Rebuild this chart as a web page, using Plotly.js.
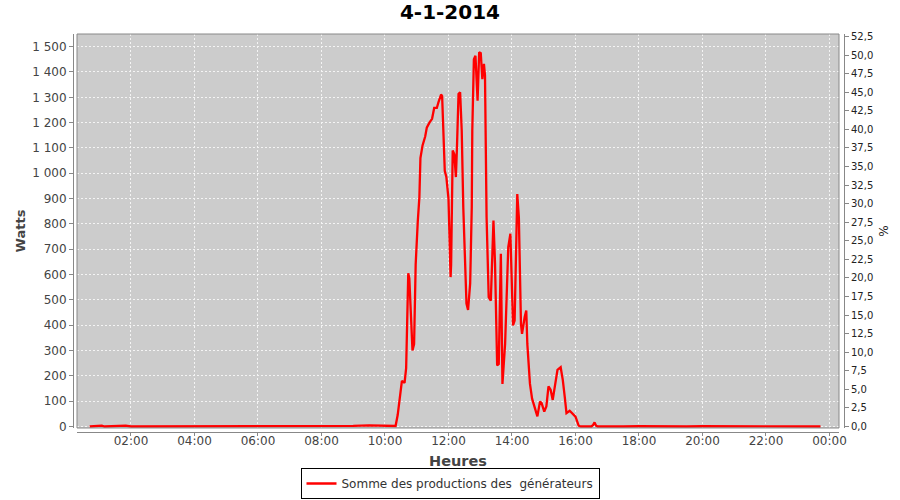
<!DOCTYPE html>
<html>
<head>
<meta charset="utf-8">
<script src="https://cdn.plot.ly/plotly-3.0.1.min.js"></script>
<style>
  html, body { margin: 0; padding: 0; background: #ffffff; }
  #chart { width: 900px; height: 500px; }
</style>
</head>
<body>
<div id="chart"></div>
<script>
// ---- Data (4 Jan 2014) ----
const day = "2014-01-04";
const times = [
  "00:42","01:05","01:10","01:35","01:50","02:00","03:00","04:00","05:00","06:00",
  "07:00","08:00","09:00","09:30","10:00","10:15","10:20",
  "10:24","10:29","10:32","10:37","10:40","10:43","10:44","10:46","10:49","10:52",
  "10:55","10:58","11:02","11:05","11:07","11:11","11:16","11:19","11:24","11:29",
  "11:33","11:38","11:41","11:46","11:48","11:50","11:53","11:56","12:00","12:02",
  "12:04","12:05","12:08","12:11","12:14","12:16","12:19","12:22","12:25","12:28",
  "12:31","12:34","12:37","12:41","12:44","12:45","12:48","12:51","12:55","12:58",
  "13:01","13:04","13:07","13:09","13:12","13:16","13:20","13:25","13:28","13:32",
  "13:35","13:39","13:42","13:47","13:53","13:57","14:02","14:05","14:10","14:13",
  "14:17","14:19","14:24","14:27","14:29","14:34","14:38","14:41","14:44","14:48",
  "14:53","14:56","15:01","15:05","15:09","15:13","15:17","15:23","15:26","15:32",
  "15:36","15:40","15:43","15:49","15:55","16:00","16:06","16:10","16:30","16:33",
  "16:36","16:39","16:42","17:00","17:30","18:00","18:30","19:00","19:30","20:00",
  "20:30","21:00","21:30","22:00","22:30","23:00","23:43"
];
const watts = [
  0,3,0,2,3,0,0,0,0,0,
  1,1,2,4,4,3,2,
  45,130,180,172,230,510,605,585,420,300,
  325,640,810,905,1060,1110,1145,1180,1200,1215,
  1258,1258,1280,1311,1305,1170,1010,985,900,745,
  590,640,1090,1075,985,1100,1313,1320,1170,865,
  640,485,460,565,866,1170,1450,1464,1287,1478,
  1474,1372,1432,1386,826,511,497,813,642,241,
  247,682,168,326,708,761,399,418,918,826,
  405,366,432,458,326,168,110,86,66,40,
  99,92,59,79,158,145,105,184,224,234,
  184,112,53,62,49,39,3,0,0,5,
  16,3,0,1,0,1,0,1,0,1,
  1,1,0,1,0,0,0
];
const seriesName = "Somme des productions des \u00a0générateurs";
const chartTitle = "4-1-2014";
const xTitle = "Heures";
const yTitle = "Watts";
const y2Title = "%";

const xs = times.map(t => day + " " + t);

const trace = {
  x: xs, y: watts, type: "scatter", mode: "lines",
  name: seriesName,
  line: { color: "#ff0000", width: 2.3 },
  hoverinfo: "skip"
};
// empty trace that only attaches the percentage axis (draws nothing)
const pctAxisTrace = {
  x: [null], y: [null], type: "scatter", mode: "lines",
  yaxis: "y2", showlegend: false, hoverinfo: "skip"
};

const font = "DejaVu Sans, Verdana, sans-serif";
const xDomain = [0.02152, 0.98608];
const layout = {
  width: 900, height: 500,
  margin: { l: 60, r: 50, t: 30, b: 60 },
  paper_bgcolor: "#ffffff",
  plot_bgcolor: "#cccccc",
  separators: ", ",
  font: { family: font, size: 12, color: "#444444" },
  title: {
    text: "<b>" + chartTitle + "</b>",
    font: { family: font, size: 20, color: "#000000" },
    xref: "container", x: 0.5, xanchor: "center",
    yref: "container", y: 0.976, yanchor: "middle"
  },
  showlegend: true,
  legend: {
    xref: "container", x: 0.5, xanchor: "center",
    yref: "container", y: 0.002, yanchor: "bottom",
    orientation: "h",
    bordercolor: "#000000", borderwidth: 1, bgcolor: "#ffffff",
    font: { family: font, size: 12, color: "#333333" },
    itemwidth: 30
  },
  xaxis: {
    type: "date",
    domain: xDomain,
    anchor: "free", position: 0.0195,
    range: [day + " 00:18", "2014-01-05 00:18"],
    tickformat: "%H:%M",
    dtick: 7200000,
    tick0: day + " 00:00",
    showline: true, linecolor: "#888888", linewidth: 1,
    ticks: "outside", ticklen: 3, tickcolor: "#888888",
    ticklabelstandoff: -5,
    showgrid: true, gridcolor: "#f4f4f4", griddash: "2px,2px", gridwidth: 1,
    zeroline: false,
    tickfont: { family: font, size: 12, color: "#444444" }
  },
  yaxis: {
    domain: [0.02927, 0.99024],
    anchor: "free", position: 0.01646,
    range: [-6, 1550],
    dtick: 100, tick0: 0,
    tickformat: ",d",
    showline: true, linecolor: "#888888", linewidth: 1,
    ticks: "outside", ticklen: 4, tickcolor: "#888888",
    showgrid: true, gridcolor: "#f4f4f4", griddash: "2px,2px", gridwidth: 1,
    zeroline: false,
    tickfont: { family: font, size: 12, color: "#444444" },
    title: { text: "<b>" + yTitle + "</b>", font: { family: font, size: 13, color: "#444444" }, standoff: 2 }
  },
  yaxis2: {
    overlaying: "y", side: "right",
    anchor: "free", position: 0.99241,
    range: [-0.2, 52.83],
    dtick: 2.5, tick0: 0,
    tickformat: ".1f",
    showline: true, linecolor: "#888888", linewidth: 1,
    ticks: "outside", ticklen: 4, tickcolor: "#888888",
    showgrid: false, zeroline: false,
    tickfont: { family: font, size: 10, color: "#222222" },
    title: { text: y2Title, font: { family: font, size: 12, color: "#222222" }, standoff: 7 }
  },
  annotations: [{
    text: "<b>" + xTitle + "</b>",
    xref: "paper", x: (xDomain[0] + xDomain[1]) / 2, xanchor: "center",
    yref: "paper", y: -0.0512, yanchor: "middle",
    showarrow: false,
    font: { family: font, size: 14.5, color: "#444444" }
  }],
  shapes: [{
    type: "rect", xref: "x domain", yref: "y domain",
    x0: 0, x1: 1, y0: 0, y1: 1,
    line: { color: "#888888", width: 1 }, fillcolor: "rgba(0,0,0,0)", layer: "above"
  }]
};

Plotly.newPlot("chart", [trace, pctAxisTrace], layout, { staticPlot: true, displayModeBar: false });
</script>
</body>
</html>
